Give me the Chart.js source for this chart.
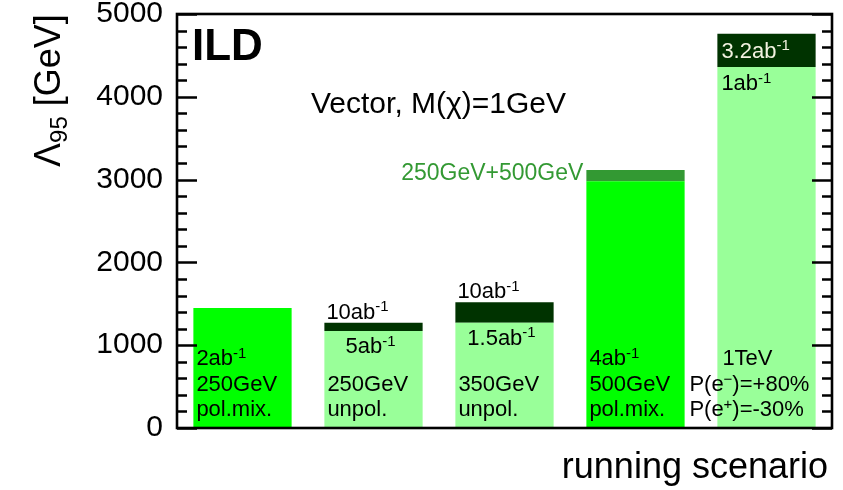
<!DOCTYPE html>
<html><head><meta charset="utf-8">
<script src="https://cdn.jsdelivr.net/npm/chart.js@4.4.1/dist/chart.umd.min.js"></script>
<style>html,body{margin:0;padding:0;background:#fff}</style>
</head><body>
<canvas id="c" width="843" height="490"></canvas>
<script>
// ---- data ----
const categories = ['250GeV pol.mix.', '250GeV unpol.', '350GeV unpol.', '500GeV pol.mix.', '1TeV'];
const baseValues = [1450, 1170, 1270, 2980, 4360];
const upgradedValues = [1450, 1270, 1520, 3115, 4760];
const baseLumi = ['2ab^{-1}', '5ab^{-1}', '1.5ab^{-1}', '4ab^{-1}', '1ab^{-1}'];
const upgradedLumi = ['', '10ab^{-1}', '10ab^{-1}', '250GeV+500GeV', '3.2ab^{-1}'];
const energyLabels = ['250GeV', '250GeV', '350GeV', '500GeV', '1TeV'];
const polLabels = [['pol.mix.'], ['unpol.'], ['unpol.'], ['pol.mix.'], ['P(e^{\u2212})=+80%', 'P(e^{+})=-30%']];
const yTickValues = [0, 1000, 2000, 3000, 4000, 5000];
const yMinorStep = 200;

// ---- styles ----
const FAM = '"Liberation Sans", Arial, sans-serif';
const baseColors = ['#00ff00', '#99ff99', '#99ff99', '#00ff00', '#99ff99'];
const extColors = ['#339933', '#003300', '#003300', '#339933', '#003300'];

function drawRich(ctx, text, x, y, size, align, color, bold) {
  const parts = []; const re = /([\^_])\{([^}]*)\}/g; let last = 0, m;
  while ((m = re.exec(text))) {
    if (m.index > last) parts.push({ t: text.slice(last, m.index), k: '' });
    parts.push({ t: m[2], k: m[1] }); last = re.lastIndex;
  }
  if (last < text.length) parts.push({ t: text.slice(last), k: '' });
  const fontFor = p => (bold ? 'bold ' : '') + (p.k ? Math.round(size * 0.68) : size) + 'px ' + FAM;
  let w = 0;
  for (const p of parts) { ctx.font = fontFor(p); p.w = ctx.measureText(p.t).width; w += p.w; }
  let cx = align === 'center' ? x - w / 2 : align === 'right' ? x - w : x;
  ctx.fillStyle = color; ctx.textAlign = 'left'; ctx.textBaseline = 'alphabetic';
  for (const p of parts) {
    ctx.font = fontFor(p);
    const dy = p.k === '^' ? -size * 0.34 : p.k === '_' ? size * 0.2 : 0;
    ctx.fillText(p.t, cx, y + dy); cx += p.w;
  }
}

const ildPlugin = {
  id: 'ild',
  afterDraw(chart) {
    const { ctx, chartArea: a, scales: { x, y } } = chart;
    const base = chart.getDatasetMeta(0).data;
    ctx.save();
    // tick marks inside frame (left and right)
    ctx.strokeStyle = '#000'; ctx.lineWidth = 2.3;
    for (let v = y.min; v <= y.max; v += yMinorStep) {
      const py = Math.round(y.getPixelForValue(v)) + 0.5;
      const len = yTickValues.includes(v) ? 20 : 10;
      ctx.beginPath();
      ctx.moveTo(a.left, py); ctx.lineTo(a.left + len, py);
      ctx.moveTo(a.right, py); ctx.lineTo(a.right - len, py);
      ctx.stroke();
    }
    // frame
    ctx.lineWidth = 2.6;
    ctx.strokeRect(a.left, a.top, a.right - a.left, a.bottom - a.top);

    const y0 = y.getPixelForValue(0);
    const S = 22;
    for (let i = 0; i < categories.length; i++) {
      const b = base[i];
      const bl = b.x - b.width / 2;
      const baseTop = y.getPixelForValue(baseValues[i]);
      const extTop = y.getPixelForValue(upgradedValues[i]);
      const pols = polLabels[i];
      if (i === 4) {
        drawRich(ctx, upgradedLumi[i], bl + 4, extTop + 24, S, 'left', '#f2f2e0');
        drawRich(ctx, baseLumi[i], bl + 4, baseTop + 23, S, 'left', '#000');
        drawRich(ctx, energyLabels[i], bl + 5, y0 - 63, S, 'left', '#000');
        drawRich(ctx, pols[0], bl - 28, y0 - 37, S, 'left', '#000');
        drawRich(ctx, pols[1], bl - 28, y0 - 12, S, 'left', '#000');
        continue;
      }
      if (i === 1 || i === 2) {
        drawRich(ctx, upgradedLumi[i], bl + 2, extTop - 4, S, 'left', '#000');
        drawRich(ctx, baseLumi[i], b.x - 3, baseTop + 22, S, 'center', '#000');
      } else {
        drawRich(ctx, baseLumi[i], bl + 3, y0 - 63, S, 'left', '#000');
        if (upgradedLumi[i]) drawRich(ctx, upgradedLumi[i], bl - 3, extTop + 10, 23, 'right', '#339933');
      }
      drawRich(ctx, energyLabels[i], bl + 3, y0 - 37, S, 'left', '#000');
      drawRich(ctx, pols[0], bl + 3, y0 - 12, S, 'left', '#000');
    }
    // ILD logo and model text
    drawRich(ctx, 'ILD', a.left + 15, a.top + 46, 44, 'left', '#000', true);
    drawRich(ctx, 'Vector, M(\u03c7)=1GeV', a.left + 134, a.top + 99, 30, 'left', '#000');
    // x-axis title
    drawRich(ctx, 'running scenario', a.right - 4, y0 + 50, 36, 'right', '#000');
    // y-axis title
    ctx.save();
    ctx.translate(60, 167);
    ctx.rotate(-Math.PI / 2);
    drawRich(ctx, '\u039b_{95} [GeV]', 0, 0, 36, 'left', '#000');
    ctx.restore();
    ctx.restore();
  }
};

new Chart(document.getElementById('c'), {
  type: 'bar',
  data: {
    labels: categories,
    datasets: [
      { data: baseValues, backgroundColor: baseColors, borderWidth: 0, barPercentage: 0.75, categoryPercentage: 1 },
      { data: upgradedValues.map((v, i) => v - baseValues[i]), backgroundColor: extColors, borderWidth: 0, barPercentage: 0.75, categoryPercentage: 1 }
    ]
  },
  options: {
    responsive: false, animation: false, devicePixelRatio: 1,
    layout: { padding: { top: 0, right: 11, bottom: 62, left: 0 } },
    plugins: { legend: { display: false }, tooltip: { enabled: false }, title: { display: false } },
    scales: {
      x: { stacked: true, display: false, grid: { display: false } },
      y: {
        stacked: true, min: 0, max: 5000,
        afterFit(s) { s.width = 177; },
        afterBuildTicks(s) { s.ticks = yTickValues.map(v => ({ value: v })); },
        grid: { display: false, drawTicks: true, tickLength: 14 }, border: { display: false },
        ticks: { color: '#000', padding: 0, callback: v => String(v), font: { family: FAM, size: 30, lineHeight: 0.9333 } }
      }
    }
  },
  plugins: [ildPlugin]
});
</script>
</body></html>
